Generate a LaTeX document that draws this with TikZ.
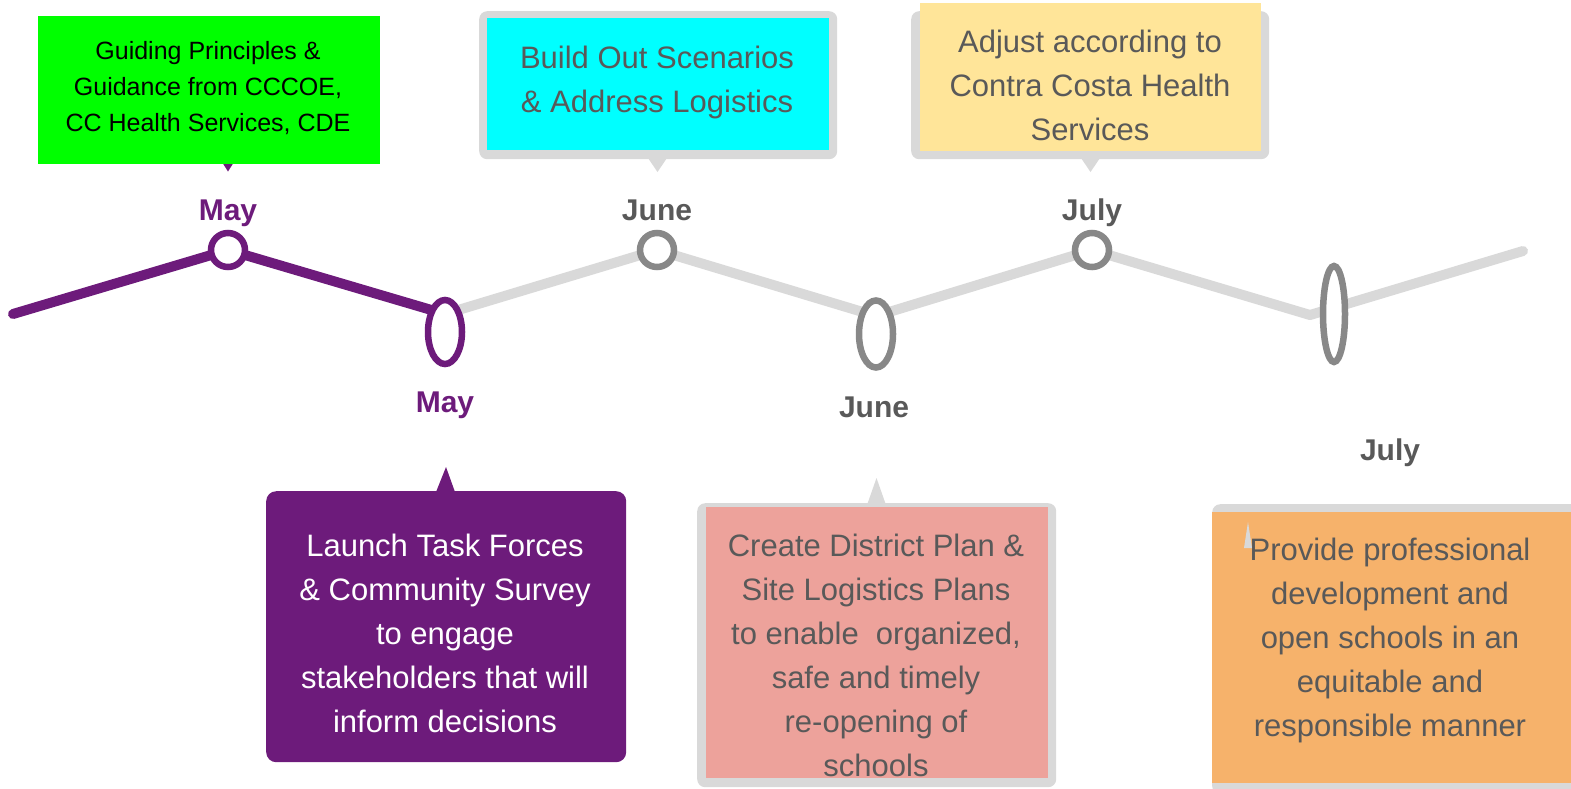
\documentclass[tikz,border=0pt]{standalone}
\usepackage{fontspec}
\setmainfont{Liberation Sans}
\usetikzlibrary{shapes.geometric}
\definecolor{tlpurple}{HTML}{6D1B7B}
\definecolor{tlgray}{HTML}{D9D9D9}
\definecolor{ringgray}{HTML}{888888}
\definecolor{txtgray}{HTML}{595959}
\definecolor{boxgreen}{HTML}{00FF00}
\definecolor{boxcyan}{HTML}{00FFFF}
\definecolor{boxyellow}{HTML}{FFE599}
\definecolor{boxpink}{HTML}{EDA29B}
\definecolor{boxorange}{HTML}{F6B26B}
\begin{document}
\begin{tikzpicture}[x=1pt,y=-1pt,
  tline/.style={line width=10pt,line cap=round,line join=round},
  ring/.style={circle,line width=6.5pt,fill=white,minimum size=34pt,inner sep=0pt},
  oval/.style={ellipse,line width=6.5pt,fill=white,inner sep=0pt},
  month/.style={font=\fontsize{30}{36}\selectfont\bfseries,anchor=base,inner sep=0pt},
  frame/.style={fill=tlgray,rounded corners=8pt,anchor=north west,inner sep=0pt},
  panel/.style={anchor=north west,inner sep=0pt},
  boxtext/.style={font=\fontsize{31}{44}\selectfont,align=center,anchor=north,inner sep=0pt,text=txtgray},
]
\useasboundingbox (0,0) rectangle (1571,788);

% timeline points
\coordinate (p0) at (13,314);
\coordinate (p1) at (228,250);
\coordinate (p2) at (445,314);
\coordinate (p3) at (657,250);
\coordinate (p4) at (876,316);
\coordinate (p5) at (1092,250);
\coordinate (p6) at (1310,315);
\coordinate (p7) at (1523,251);

\draw[tline,tlgray] (p2) -- (p3) -- (p4) -- (p5) -- (p6) -- (p7);
\draw[tline,tlpurple] (p0) -- (p1) -- (p2);

\node[ring,draw=tlpurple] (m1) at (p1) {};
\node[oval,draw=tlpurple,minimum width=34pt,minimum height=64pt] (m2) at (445,332) {};
\node[ring,draw=ringgray] (m3) at (p3) {};
\node[oval,draw=ringgray,minimum width=34pt,minimum height=67pt] (m4) at (876,334) {};
\node[ring,draw=ringgray] (m5) at (p5) {};
\node[oval,draw=ringgray,minimum width=22pt,minimum height=96pt] (m6) at (1334,314) {};

% month labels
\node[month,text=tlpurple] (l1) at (228,220) {May};
\node[month,text=tlpurple] (l2) at (445,412) {May};
\node[month,text=txtgray] (l3) at (657,220) {June};
\node[month,text=txtgray] (l4) at (874,417) {June};
\node[month,text=txtgray] (l5) at (1092,220) {July};
\node[month,text=txtgray] (l6) at (1390,460) {July};

% box 1: green
\fill[tlpurple] (222,162) -- (234,162) -- (228,171.5) -- cycle;
\node[panel,fill=boxgreen,minimum width=342pt,minimum height=148pt] (b1) at (38,16) {};
\node[boxtext,text=black,font=\fontsize{25}{36}\selectfont] (t1) at (208,41)
  {Guiding Principles \&\\Guidance from CCCOE,\\CC Health Services, CDE};

% box 2: cyan
\node[frame,minimum width=358pt,minimum height=148pt] (f2) at (479,11) {};
\fill[tlgray] (648,158) -- (667,158) -- (657.5,172) -- cycle;
\node[panel,fill=boxcyan,minimum width=342pt,minimum height=132pt] (b2) at (487,18) {};
\node[boxtext] (t2) at (657,46) {Build Out Scenarios\\\& Address Logistics};

% box 3: yellow
\node[frame,minimum width=358pt,minimum height=148pt] (f3) at (911,11) {};
\fill[tlgray] (1081,158) -- (1100,158) -- (1090.5,172) -- cycle;
\node[panel,fill=boxyellow,minimum width=341pt,minimum height=148pt] (b3) at (920,3) {};
\node[boxtext] (t3) at (1090,30) {Adjust according to\\Contra Costa Health\\Services};

% box 4: purple
\fill[tlpurple] (436,492) -- (455,492) -- (446,467) -- cycle;
\node[panel,fill=tlpurple,rounded corners=10pt,minimum width=360pt,minimum height=271pt] (b4) at (266,491) {};
\node[boxtext,text=white] (t4) at (445,534)
  {Launch Task Forces\\\& Community Survey\\to engage\\stakeholders that will\\inform decisions};

% box 5: pink
\fill[tlgray] (867,505) -- (886,505) -- (876.5,478) -- cycle;
\node[frame,minimum width=359pt,minimum height=284pt] (f5) at (697,503) {};
\node[panel,fill=boxpink,minimum width=342pt,minimum height=271pt] (b5) at (706,507) {};
\node[boxtext] (t5) at (876,534)
  {Create District Plan \&\\Site Logistics Plans\\to enable\ \ organized,\\safe and timely\\re-opening of\\schools};

% box 6: orange
\node[frame,minimum width=370pt,minimum height=290pt] (f6) at (1212,504) {};
\node[panel,fill=boxorange,minimum width=370pt,minimum height=271pt] (b6) at (1212,512) {};
\fill[tlgray] (1244,548) -- (1252,548) -- (1248,522) -- cycle;
\node[boxtext] (t6) at (1390,538)
  {Provide professional\\development and\\open schools in an\\equitable and\\responsible manner};
\end{tikzpicture}
\end{document}
